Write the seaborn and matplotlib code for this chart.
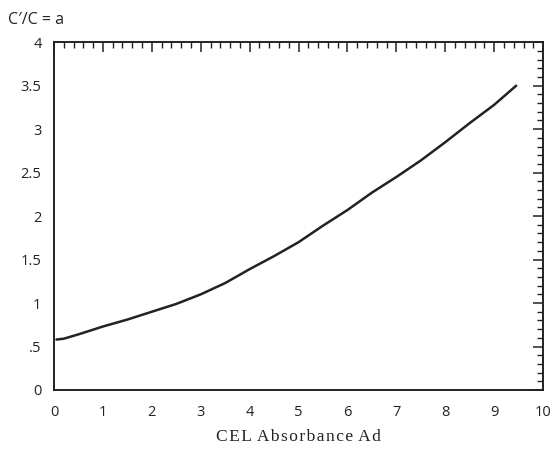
import matplotlib
matplotlib.use('Agg')
import matplotlib.pyplot as plt
from matplotlib.ticker import MultipleLocator
import pandas as pd
import seaborn as sns

# Datos
absorbancia = [0.05, 0.2, 0.5, 1.0, 1.5, 2.0, 2.5, 3.0, 3.5, 4.0, 4.5, 5.0, 5.5, 6.0, 6.5, 7.0, 7.5, 8.0, 8.5, 9.0, 9.45]
razon = [0.58, 0.59, 0.64, 0.73, 0.81, 0.90, 0.99, 1.10, 1.23, 1.39, 1.54, 1.70, 1.89, 2.07, 2.27, 2.45, 2.64, 2.85, 3.07, 3.28, 3.50]
x_ticks = [0, 1, 2, 3, 4, 5, 6, 7, 8, 9, 10]
y_ticks = [0, 0.5, 1, 1.5, 2, 2.5, 3, 3.5, 4]
y_labels = ['0', '.5', '1', '1.5', '2', '2.5', '3', '3.5', '4']

df = pd.DataFrame({'A': absorbancia, 'a': razon})

sns.set_theme(style='white')
plt.rcParams['font.family'] = ['Open Sans', 'DejaVu Sans']

fig = plt.figure(figsize=(5.57, 4.54), dpi=100)
ax = fig.add_axes([0.097, 0.141, 0.878, 0.766])

sns.lineplot(data=df, x='A', y='a', ax=ax, color='#222222', linewidth=1.8)

ax.set_xlim(0, 10)
ax.set_ylim(0, 4)
ax.set_xticks(x_ticks)
ax.set_xticklabels([str(t) for t in x_ticks])
ax.set_yticks(y_ticks)
ax.set_yticklabels(y_labels)
ax.xaxis.set_minor_locator(MultipleLocator(0.2))
ax.yaxis.set_minor_locator(MultipleLocator(0.1))
ax.tick_params(which='both', direction='in', top=True, right=True, colors='#222222',
               labelcolor='#222222', labelsize=10.5)
ax.tick_params(axis='x', which='major', length=7, width=1.1, pad=11)
ax.tick_params(axis='y', which='major', length=7, width=1.1, pad=9)
ax.tick_params(which='minor', length=4, width=1.0)
for sp in ax.spines.values():
    sp.set_color('#222222')
    sp.set_linewidth(1.4)

ax.set_xlabel('C E L  A b s o r b a n c e  A d'.replace('  ', '\u2009 ').replace(' ', '\u200a'),
              family=['Liberation Serif', 'DejaVu Serif'], fontsize=12.5,
              color='#222222', labelpad=6)
ax.set_ylabel('')
fig.text(0.015, 0.957, "C\u2032/C = a", fontsize=11.5, color='#222222', va='center')

fig.savefig('out.png', dpi=100)
